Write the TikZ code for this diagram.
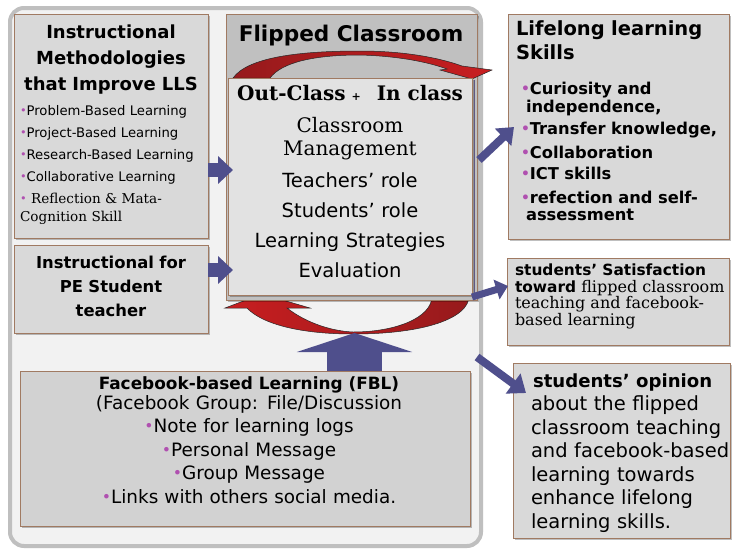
\documentclass[tikz,border=0pt]{standalone}
\usepackage{fontspec}
\setmainfont{DejaVu Sans}
\newfontfamily\serifx{DejaVu Serif}
\usetikzlibrary{arrows.meta,shadows}

\definecolor{panel}{HTML}{F2F2F2}
\definecolor{panelrim}{HTML}{BFBFBF}
\definecolor{boxfill}{HTML}{D9D9D9}
\definecolor{fblfill}{HTML}{D2D2D2}
\definecolor{boxrim}{HTML}{A07A62}
\definecolor{headfill}{HTML}{C0C0C0}
\definecolor{innerfill}{HTML}{E2E2E2}
\definecolor{flow}{HTML}{4F4F8C}
\definecolor{loopred}{HTML}{C81E20}
\definecolor{loopdark}{HTML}{961A1C}
\definecolor{bulletc}{HTML}{B050B0}

% small coloured bullet placed in front of list items
\newcommand\bul{\textcolor{bulletc}{\raisebox{0.05em}{\scalebox{0.85}{•}}}}

\tikzset{
  box/.style={draw=boxrim, line width=0.8pt, fill=boxfill, inner sep=0pt,
    drop shadow={shadow xshift=2pt, shadow yshift=-2pt, fill=black, opacity=0.25}},
  txt/.style={inner sep=0pt, outer sep=0pt},
  loop/.style={draw=black!85, line width=0.5pt, shading=axis, shading angle=90}
}

\begin{document}
\begin{tikzpicture}[x=1pt, y=-1pt]
  \useasboundingbox (0,0) rectangle (732,550);
  \fill[white] (0,0) rectangle (732,550);

  % container panel
  \draw[panelrim, fill=panel, line width=4pt, rounded corners=14pt] (10,8) rectangle (481,546);

  % lower return loop (partly hidden under the classroom box)
  \path[loop, left color=loopred, right color=loopdark]
    (469,296) .. controls (469,318) and (425,334) .. (353,334)
    .. controls (300,334) and (262,324) .. (247,308)
    -- (225,308) -- (262,294) -- (310,308) -- (287,308)
    .. controls (305,322) and (330,331) .. (353,332)
    .. controls (395,332) and (432,318) .. (432,296) -- cycle;

  % left column
  \node[box, anchor=north west, minimum width=194pt, minimum height=224pt] (meth) at (14,14) {};
  \node[box, anchor=north west, minimum width=194pt, minimum height=88pt] (pe) at (14,245) {};

  % flipped classroom block
  \node[box, fill=headfill, anchor=north west, minimum width=251pt, minimum height=286pt] (head) at (226,14) {};
  \path[loop, left color=loopdark, right color=loopred]
    (233,78) .. controls (248,57) and (300,51) .. (360,51)
    .. controls (405,51) and (440,58) .. (462,66)
    -- (492,70) -- (472,79) -- (440,70) -- (447,69)
    .. controls (425,61) and (395,56) .. (360,55)
    .. controls (315,55) and (282,62) .. (270,78) -- cycle;
  \node[box, fill=innerfill, anchor=north west, minimum width=244pt, minimum height=217pt] (inner) at (228,78) {};
  \path (inner.north east) ++(1.5pt,-2pt) coordinate (rimtop)
        (inner.south east) ++(1.5pt,3pt) coordinate (rimbot);
  \draw[flow!80!boxrim, line width=1pt] (rimtop) -- (rimbot);

  % right column and bottom block
  \node[box, anchor=north west, minimum width=221pt, minimum height=225pt] (life) at (508,14) {};
  \node[box, anchor=north west, minimum width=222pt, minimum height=87pt] (satis) at (507,258) {};
  \node[box, anchor=north west, minimum width=217pt, minimum height=175pt] (opin) at (513,363) {};
  \node[box, fill=fblfill, anchor=north west, minimum width=450pt, minimum height=155pt] (fbl) at (20,371) {};

  % arrow end points
  \coordinate (a1s) at (208,170);  \coordinate (a1e) at (233,170);
  \coordinate (a2s) at (208,270);  \coordinate (a2e) at (233,270);
  \coordinate (a3s) at (354.5,371); \coordinate (a3e) at (354.5,333);
  \coordinate (a4s) at (479,160);  \coordinate (a4e) at (514,127);
  \coordinate (a5s) at (472,297);  \coordinate (a5e) at (508,286);
  \coordinate (a6s) at (477,357);  \coordinate (a6e) at (526,393);

  \draw[flow, line width=14pt, -{Triangle[length=15pt,width=27pt]}] (a1s) -- (a1e);
  \draw[flow, line width=14pt, -{Triangle[length=15pt,width=27pt]}] (a2s) -- (a2e);
  \draw[flow, line width=55pt, -{Triangle[length=19pt,width=115pt]}] (a3s) -- (a3e);
  \draw[flow, line width=8pt, -{Triangle[length=15pt,width=23pt]}] (a4s) -- (a4e);
  \draw[flow, line width=7pt, -{Triangle[length=12pt,width=20pt]}] (a5s) -- (a5e);
  \draw[flow, line width=8pt, -{Triangle[length=16pt,width=24pt]}] (a6s) -- (a6e);

  % texts: left column
  \node[txt, anchor=base, text width=194pt, align=center,
        font=\bfseries\fontsize{18}{26}\selectfont] (methT) at (111,38.5)
        {Instructional\\Methodologies\\that Improve LLS};
  \node[txt, anchor=base west, text width=190pt, align=left,
        font=\fontsize{13.2}{22}\selectfont] (methL) at (20,115)
        {\bul Problem-Based Learning\\
         \bul Project-Based Learning\\
         \bul Research-Based Learning\\
         \bul Collaborative Learning\\
         \bul\ {\serifx\fontsize{13.6}{22}\selectfont Reflection \& Mata-}\\[-4pt]
         {\serifx\fontsize{13.6}{22}\selectfont Cognition Skill}};
  \node[txt, anchor=base, text width=194pt, align=center,
        font=\bfseries\fontsize{16.4}{24}\selectfont] (peT) at (111,268)
        {Instructional for\\PE Student\\teacher};

  % texts: flipped classroom
  \node[txt, anchor=base, font=\bfseries\fontsize{21.6}{26}\selectfont] (headT) at (351,41) {Flipped Classroom};
  \node[txt, anchor=base, font=\serifx\bfseries\fontsize{20}{24}\selectfont] (outin) at (350,100)
        {Out-Class\hspace{6pt}{\fontsize{11}{11}\selectfont +}\hspace{16pt}In class};
  \node[txt, anchor=base, text width=220pt, align=center,
        font=\serifx\fontsize{20}{23}\selectfont] (mgmt) at (350,132) {Classroom\\Management};
  \node[txt, anchor=base, text width=230pt, align=center,
        font=\fontsize{19.5}{30}\selectfont] (roles) at (350,187)
        {Teachers’ role\\Students’ role\\Learning Strategies\\Evaluation};

  % texts: right column
  \node[txt, anchor=base west, text width=210pt, align=left,
        font=\bfseries\fontsize{19.5}{24}\selectfont] (lifeT) at (516,35) {Lifelong learning\\Skills};
  \node[txt, anchor=base west, text width=205pt, align=left,
        font=\bfseries\fontsize{16.3}{18}\selectfont] (lifeL) at (521,94)
        {\bul Curiosity and\\
         \hspace*{5pt}independence,\\[4pt]
         \bul Transfer knowledge,\\[6pt]
         \bul Collaboration\\[3pt]
         \bul ICT skills\\[6pt]
         \bul refection and self-\\[-1pt]
         \hspace*{5pt}assessment};
  \node[txt, anchor=base west, text width=215pt, align=left,
        font=\fontsize{15.4}{16.7}\selectfont] (satisT) at (515,275.5)
        {\textbf{students’ Satisfaction}\\
         \textbf{toward} {\serifx\fontsize{16}{16.7}\selectfont flipped classroom}\\
         {\serifx\fontsize{16}{16.7}\selectfont teaching and facebook-}\\
         {\serifx\fontsize{16}{16.7}\selectfont based learning}};
  \node[txt, anchor=base west, text width=200pt, align=left,
        font=\fontsize{19.5}{23.5}\selectfont] (opinT) at (531,387)
        {\hspace*{2pt}{\bfseries\fontsize{18.1}{23.5}\selectfont students’ opinion}\\
         about the flipped\\classroom teaching\\and facebook-based\\learning towards\\
         enhance lifelong\\learning skills.};

  % texts: facebook-based learning
  \node[txt, anchor=base, font=\bfseries\fontsize{16.9}{20}\selectfont] (fblT) at (249,389)
        {Facebook-based Learning (FBL)};
  \node[txt, anchor=base, text width=440pt, align=center,
        font=\fontsize{18.4}{23.5}\selectfont] (fblL) at (249,409)
        {(Facebook Group: File/Discussion\\
         \bul Note for learning logs\\
         \bul Personal Message\\
         \bul Group Message\\
         \bul Links with others social media.};
\end{tikzpicture}
\end{document}
